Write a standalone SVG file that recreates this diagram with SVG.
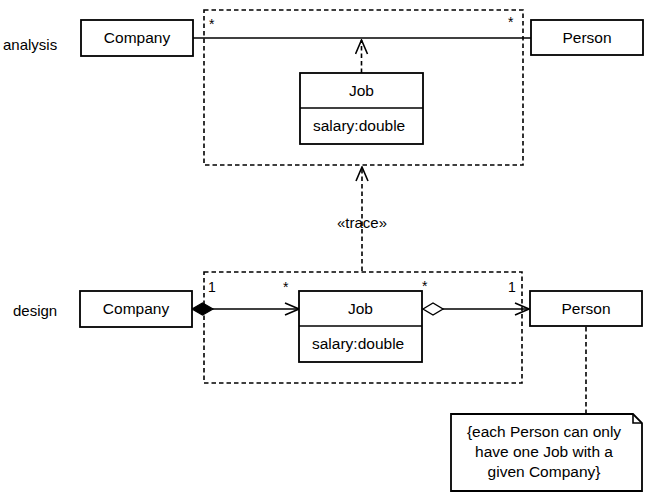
<svg xmlns="http://www.w3.org/2000/svg" width="650" height="499" viewBox="0 0 650 499">
<style>
text{font-family:"Liberation Sans",Arial,sans-serif;fill:#000}
.t{font-size:15.5px}
.lbl{font-size:15px}
.m{font-size:14px}
.box{fill:#fff;stroke:#000;stroke-width:1.8}
.dash{fill:none;stroke:#000;stroke-width:1.6;stroke-dasharray:4.5 3}
.line{fill:none;stroke:#000;stroke-width:1.6}
</style>
<defs>
<marker id="open" viewBox="0 0 16 14" refX="15" refY="7" markerWidth="16" markerHeight="14" markerUnits="userSpaceOnUse" orient="auto">
<path d="M1,1 L15,7 L1,13" fill="none" stroke="#000" stroke-width="1.6"/>
</marker>
</defs>
<rect width="650" height="499" fill="#fff"/>
<text class="lbl" x="3" y="50">analysis</text>
<text class="lbl" x="13" y="316">design</text>
<g id="analysis-frame"><rect class="dash" x="204" y="10" width="319" height="155"/></g>
<g id="design-frame"><rect class="dash" x="204" y="272" width="318" height="111"/></g>
<g id="connectors">
<line class="line" x1="193" y1="38" x2="531" y2="38"/>
<line class="dash" x1="361.5" y1="73" x2="361.5" y2="40" marker-end="url(#open)"/>
<line class="dash" x1="362" y1="271" x2="362" y2="167" marker-end="url(#open)"/>
<line class="line" x1="212" y1="309" x2="299" y2="309" marker-end="url(#open)"/>
<path d="M192,309 L202.5,303 L213,309 L202.5,315 Z" fill="#000" stroke="#000" stroke-width="1.2"/>
<line class="line" x1="443" y1="309" x2="529" y2="309" marker-end="url(#open)"/>
<path d="M423,309 L433,303 L443,309 L433,315 Z" fill="#fff" stroke="#000" stroke-width="1.4"/>
<line class="dash" x1="586" y1="327" x2="586" y2="414"/>
<text class="m" x="209" y="29">*</text>
<text class="m" x="508" y="27">*</text>
<text class="m" x="208" y="292">1</text>
<text class="m" x="283" y="292">*</text>
<text class="m" x="422" y="291">*</text>
<text class="m" x="508" y="292">1</text>
<text class="lbl" x="362" y="228" text-anchor="middle">«trace»</text>
</g>
<g id="company-analysis"><rect class="box" x="81" y="20" width="112" height="36"/><text class="t" x="137" y="43" text-anchor="middle">Company</text></g>
<g id="person-analysis"><rect class="box" x="531" y="20" width="112" height="35"/><text class="t" x="587" y="43" text-anchor="middle">Person</text></g>
<g id="job-analysis"><rect class="box" x="300" y="73" width="123" height="71"/><line class="line" x1="300" y1="108" x2="423" y2="108"/><text class="t" x="361.5" y="96" text-anchor="middle">Job</text><text class="t" x="313" y="131">salary:double</text></g>
<g id="company-design"><rect class="box" x="80" y="291" width="112" height="36"/><text class="t" x="136" y="314" text-anchor="middle">Company</text></g>
<g id="job-design"><rect class="box" x="299" y="291" width="123" height="71"/><line class="line" x1="299" y1="326" x2="422" y2="326"/><text class="t" x="360.5" y="314" text-anchor="middle">Job</text><text class="t" x="312" y="349">salary:double</text></g>
<g id="person-design"><rect class="box" x="530" y="291" width="112" height="35"/><text class="t" x="586" y="314" text-anchor="middle">Person</text></g>
<g id="note"><path class="box" d="M451,414 L633,414 L642,423 L642,491 L451,491 Z"/><path class="line" d="M633,414 L633,423 L642,423"/>
<text class="t" x="544" y="437" text-anchor="middle">{each Person can only</text>
<text class="t" x="544" y="457" text-anchor="middle">have one Job with a</text>
<text class="t" x="544" y="477" text-anchor="middle">given Company}</text></g>
</svg>
